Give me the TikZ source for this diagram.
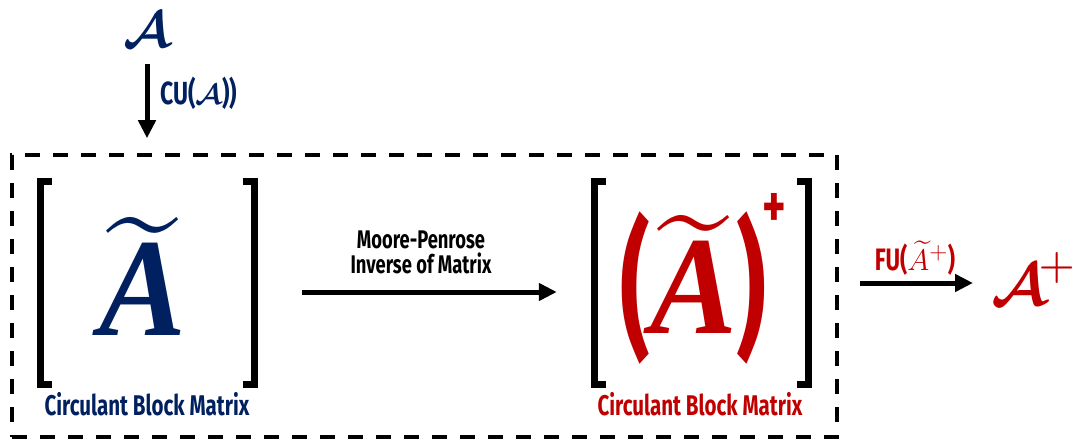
\documentclass[tikz,border=0pt]{standalone}
\usepackage{fontspec}
\usepackage{amsmath,bm}
\usetikzlibrary{arrows.meta,calc}
\newfontfamily\condf{Fira Sans}[FakeStretch=0.72]
\newfontfamily\serifbi{Liberation Serif}
\definecolor{navy}{RGB}{0,32,96}
\definecolor{dred}{RGB}{192,0,0}
\tikzset{
  lbl/.style={font=\condf\bfseries\fontsize{28.5}{30}\selectfont, inner sep=0pt},
  arr/.style={line width=5pt, -{Triangle[length=18pt,width=17pt]}},
  brk/.style={line width=7pt, line join=miter},
  frame/.style={draw, line width=3.5pt, dash pattern=on 15pt off 13pt},
  matbox/.style={minimum width=221pt, minimum height=210pt, inner sep=0pt},
  paren/.style={inner sep=0pt, text=dred, font=\condf\bfseries\fontsize{150}{150}\selectfont},
}
% big bold italic A with a wide tilde close above it
\newcommand\tildeA{\scalebox{13}[14]{$\widetilde{\raisebox{0pt}[5.5pt][0pt]{\serifbi\bfseries\itshape A}}$}}
\begin{document}
\begin{tikzpicture}[x=1pt,y=-1pt]
\useasboundingbox (0,0) rectangle (1073,441);

% input tensor
\node[inner sep=0pt, text=navy] (A) at (147,30) {\resizebox{!}{35pt}{$\bm{\mathcal{A}}$}};

% dashed frame round the two matrices
\node[frame, minimum width=825pt, minimum height=282pt, inner sep=0pt] (box) at (424.5,296) {};

\draw[arr, shorten <=16pt, shorten >=15pt] (A.south) -- (A.south |- box.north);
\node[lbl, text=navy, anchor=west, font=\condf\bfseries\fontsize{32}{34}\selectfont] (cu) at (160,93) {CU(\scalebox{1.15}{$\bm{\mathcal{A}}$}))};

% left block matrix
\node[matbox] (lm) at (147.5,283) {};
\draw[brk] ($(lm.north west)+(15,3.5)$) -- ($(lm.north west)+(3.5,3.5)$) -- ($(lm.south west)+(3.5,-3.5)$) -- ($(lm.south west)+(15,-3.5)$);
\draw[brk] ($(lm.north east)+(-15,3.5)$) -- ($(lm.north east)+(-3.5,3.5)$) -- ($(lm.south east)+(-3.5,-3.5)$) -- ($(lm.south east)+(-15,-3.5)$);
\node[inner sep=0pt, text=navy, anchor=base] (lA) at (143,335) {\tildeA};
\node[lbl, text=navy] (lcap) at (147,404) {Circulant Block Matrix};

% right block matrix
\node[matbox] (rm) at (701.5,283) {};
\draw[brk] ($(rm.north west)+(15,3.5)$) -- ($(rm.north west)+(3.5,3.5)$) -- ($(rm.south west)+(3.5,-3.5)$) -- ($(rm.south west)+(15,-3.5)$);
\draw[brk] ($(rm.north east)+(-15,3.5)$) -- ($(rm.north east)+(-3.5,3.5)$) -- ($(rm.south east)+(-3.5,-3.5)$) -- ($(rm.south east)+(-15,-3.5)$);
\node[paren] (lp) at (635,288) {\scalebox{0.85}[1]{(}};
\node[paren] (rp) at (751.5,288) {\scalebox{0.85}[1]{)}};
\node[inner sep=0pt, text=dred, anchor=base] (rA) at (694,333) {\tildeA};
\node[inner sep=0pt, text=dred, font=\condf\bfseries\fontsize{62}{62}\selectfont] (plus) at (774.5,210.5) {+};
\node[lbl, text=dred] (rcap) at (700,404) {Circulant Block Matrix};

% pseudo-inverse step
\draw[arr, shorten <=44pt, shorten >=34pt] ([yshift=-9pt]lm.east) -- ([yshift=-9pt]rm.west);
\node[lbl, align=center, font=\condf\bfseries\fontsize{25.5}{25}\selectfont] (mp) at (421,252) {Moore-Penrose\\Inverse of Matrix};

% fold back to a tensor
\node[inner sep=0pt, anchor=west, text=dred] (Ap) at (991,279) {\scalebox{6}{$\bm{\mathcal{A}}^{\!+}$}};
\draw[arr, shorten <=48pt, shorten >=18pt] (rm.east) -- (rm.east -| Ap.west);
\node[lbl, text=dred, font=\condf\bfseries\fontsize{31}{32}\selectfont] (fu) at (915,258) {FU(\scalebox{1.2}{$\widetilde{A}^{+}$})};
\end{tikzpicture}
\end{document}
